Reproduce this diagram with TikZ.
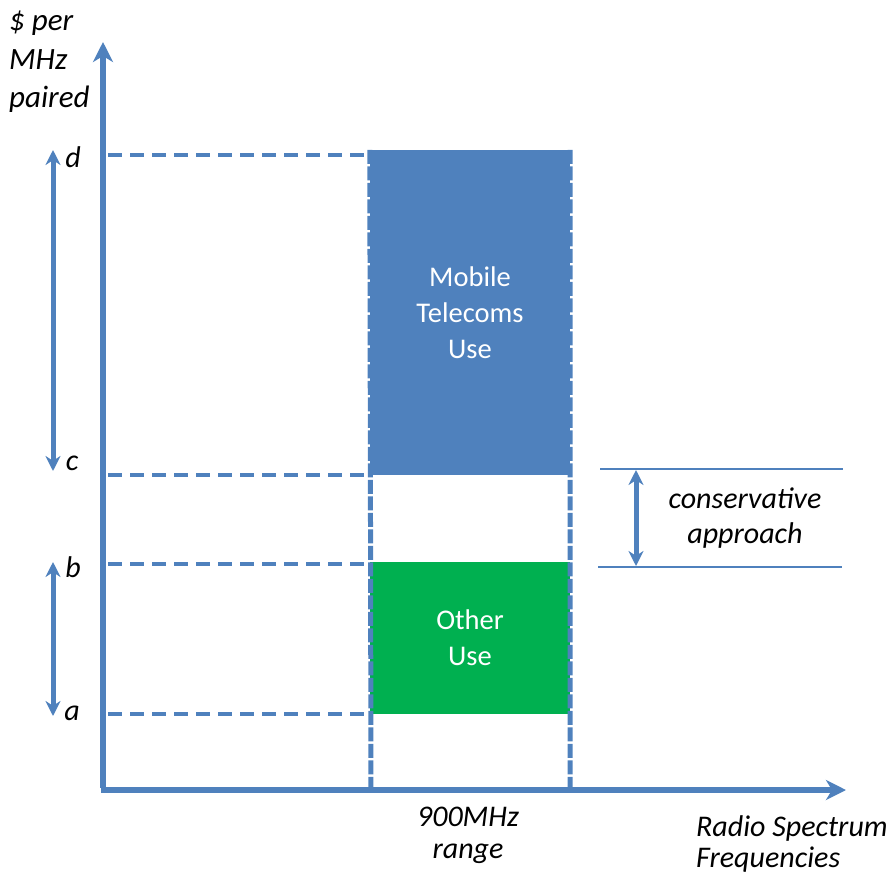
\documentclass[tikz,border=0pt]{standalone}
\usepackage{fontspec}
\setmainfont{Carlito}
\usetikzlibrary{arrows.meta,positioning}
\definecolor{MSblue}{HTML}{4F81BD}
\definecolor{MSgreen}{HTML}{00B050}
\tikzset{
  axis/.style={line width=5.5pt, draw=MSblue, -{Stealth[length=20pt,width=20pt,inset=6pt]}},
  guide/.style={line width=4.5pt, draw=MSblue, dash pattern=on 14pt off 8pt},
  rangeline/.style={line width=5pt, draw=MSblue, dash pattern=on 14pt off 2.5pt},
  span/.style={line width=5pt, draw=MSblue, {Stealth[length=15pt,width=15pt]}-{Stealth[length=15pt,width=15pt]}},
  bound/.style={line width=2.5pt, draw=MSblue},
  band/.style={inner sep=0pt, minimum width=200pt, align=center, text=white,
    font=\fontsize{28.5}{36}\selectfont},
  lbl/.style={inner sep=0pt, font=\fontsize{30}{34}\selectfont\itshape},
}

\begin{document}
\begin{tikzpicture}[x=1pt, y=-1pt]
\useasboundingbox (0,0) rectangle (895,876);
% bands
\node[band, fill=MSblue, minimum height=325pt] (mobile) at (470,312.5) {Mobile\\Telecoms\\Use};
\node[band, fill=MSgreen, minimum height=152pt] (other) at (470,638) {Other\\Use};
% axes
\coordinate (origin) at (103,790);
\coordinate (ytip) at (103,42);
\coordinate (xtip) at (846,790);
\coordinate (rangeL) at (371,790);
\coordinate (rangeR) at (570,790);
\draw[rangeline] (mobile.north west) -- (rangeL);
\draw[rangeline] (mobile.north east) -- (rangeR);
\draw[axis] ([yshift=2.5pt]origin) -- (ytip);
\draw[axis] ([xshift=-2.5pt]origin) -- (xtip);
% price levels
\node[lbl] (d) at (73,157) {d};
\node[lbl] (c) at (72,463) {c};
\node[lbl] (b) at (73,567) {b};
\node[lbl] (a) at (72,713) {a};
\coordinate (dy) at (108,155);
\coordinate (cy) at (108,475);
\coordinate (by) at (108,564);
\coordinate (ay) at (108,714);
\draw[guide] (dy) -- (dy -| mobile.west);
\draw[guide] (cy) -- (cy -| mobile.west);
\draw[guide] (by) -- (by -| other.west);
\draw[guide] (ay) -- (ay -| other.west);
\coordinate (dl) at (53,150);
\coordinate (cl) at (53,471);
\coordinate (bl) at (53,562);
\coordinate (al) at (53,716);
\draw[span] (dl) -- (cl);
\draw[span] (bl) -- (al);
% conservative approach
\coordinate (ctopL) at (600,469);
\coordinate (ctopR) at (843,469);
\coordinate (cbotL) at (598,567);
\coordinate (cbotR) at (842,567);
\draw[bound] (ctopL) -- (ctopR);
\draw[bound] (cbotL) -- (cbotR);
\coordinate (cup) at (636,470);
\coordinate (cdown) at (636,566);
\draw[span] (cup) -- (cdown);
\node[lbl, align=center, font=\fontsize{30}{35}\selectfont\itshape] (conservative) at (745,518) {conservative\\approach};
% axis labels
\node[lbl, align=left, anchor=north west, font=\fontsize{31}{38.5}\selectfont\itshape] (ylabel) at (9,11) {\$ per\\MHz\\paired};
\node[lbl, align=center, font=\fontsize{30}{32}\selectfont\itshape] (range) at (468,835) {900MHz\\range};
\node[lbl, align=left, anchor=west, font=\fontsize{30}{31}\selectfont\itshape] (xlabel) at (696,844) {Radio Spectrum\\Frequencies};
\end{tikzpicture}
\end{document}
